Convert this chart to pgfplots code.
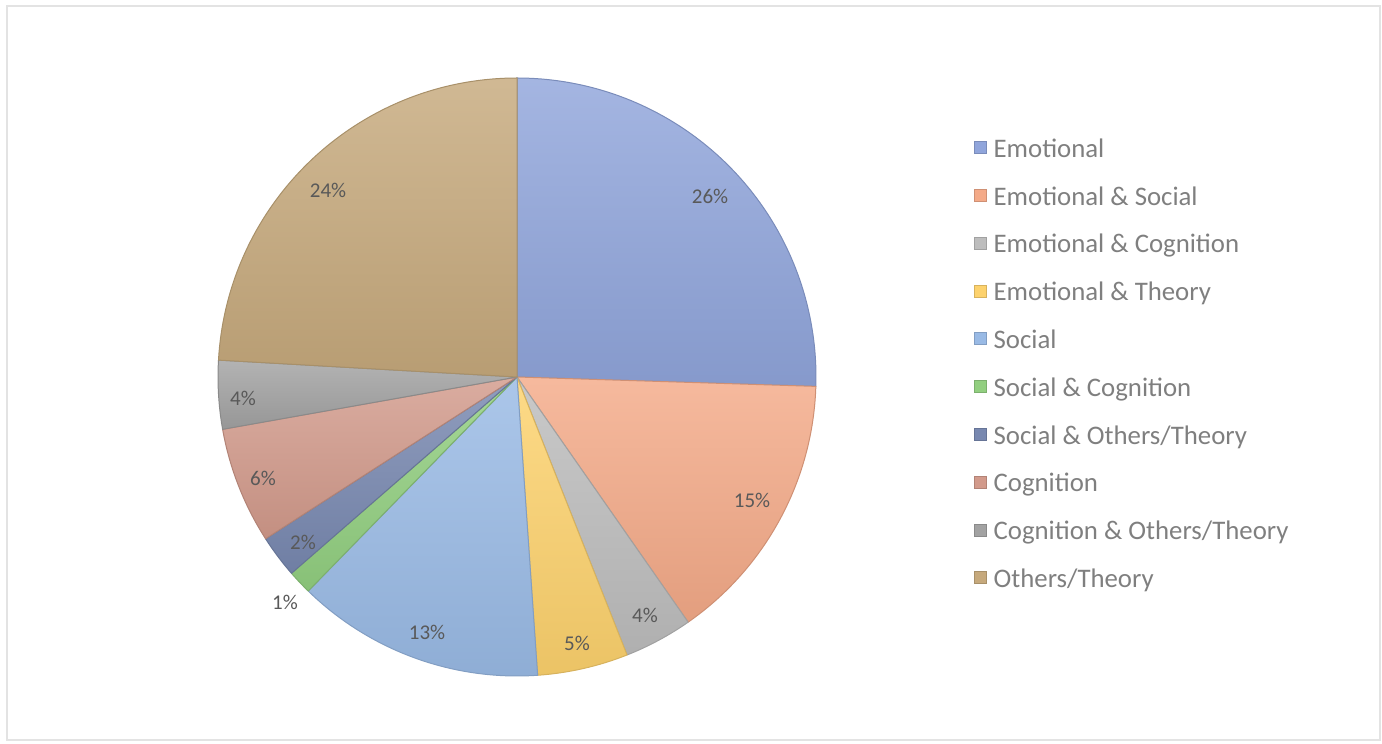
\documentclass[border=0pt]{standalone}
\usepackage{pgfplots}
\pgfplotsset{compat=1.18}
\usepackage{pgfplotstable}
\usepackage{fontspec}
\setmainfont{Carlito}

\definecolor{slice0}{HTML}{90A5DB}
\definecolor{slice1}{HTML}{F4AA88}
\definecolor{slice2}{HTML}{BDBDBD}
\definecolor{slice3}{HTML}{FDD26D}
\definecolor{slice4}{HTML}{99BAE5}
\definecolor{slice5}{HTML}{92CF80}
\definecolor{slice6}{HTML}{7888B0}
\definecolor{slice7}{HTML}{D29A8B}
\definecolor{slice8}{HTML}{A2A2A2}
\definecolor{slice9}{HTML}{C6A97C}
\definecolor{legtext}{HTML}{7F7F7F}
\definecolor{labtext}{HTML}{595959}
\definecolor{framecol}{HTML}{E3E3E3}

% share of each category in percent, clockwise from 12 o'clock
\pgfplotstableread{
share
25.5
14.8
3.7
4.9
13.4
1.3
2.3
6.3
3.7
24.1
}\piedata

% data label positions (pixel units) and rounded label text
\pgfplotstableread{
x y lab
710 548 26
752 244 15
645 129 4
577 101 5
427 112 13
285 142 1
303 202 2
263 266 6
243 346 4
328 554 24
}\labeldata

\begin{document}
\begin{tikzpicture}
\begin{axis}[
  at={(0pt,0pt)}, anchor=south west,
  width=1382pt, height=744pt, scale only axis,
  xmin=0, xmax=1382, ymin=0, ymax=744,
  hide axis, clip=false,
  legend image code/.code={\draw[#1] (0pt,-6pt) rectangle (12pt,6pt); \path (18pt,0pt);},
  legend cell align=left,
  legend style={at={(0.7048,0.8185)}, anchor=north west, draw=none, fill=none,
     inner sep=0pt, row sep=23.3pt, font=\fontsize{26.8}{30}\selectfont, text=legtext,
     nodes={inner sep=1pt}},
]
\draw[color=framecol, line width=1.5pt] (axis cs:7,4) rectangle (axis cs:1380,738);
\def\angA{90}
\pgfplotsforeachungrouped \i in {0,...,9}{%
  \pgfplotstablegetelem{\i}{share}\of\piedata
  \pgfmathsetmacro\angB{\angA-3.6*\pgfplotsretval}%
  \edef\temp{\noexpand\path[top color=slice\i!82!white, bottom color=slice\i!93!black, draw=slice\i!85!black, line width=1pt, line join=round] (axis cs:517,367) -- ++(\angA:299pt) arc[start angle=\angA, end angle=\angB, radius=299pt] -- cycle;}%
  \temp
  \global\let\angA\angB
}
\addlegendimage{fill=slice0, draw=slice0!85!black}\addlegendentry{\strut Emotional}
\addlegendimage{fill=slice1, draw=slice1!85!black}\addlegendentry{\strut Emotional \& Social}
\addlegendimage{fill=slice2, draw=slice2!85!black}\addlegendentry{\strut Emotional \& Cognition}
\addlegendimage{fill=slice3, draw=slice3!85!black}\addlegendentry{\strut Emotional \& Theory}
\addlegendimage{fill=slice4, draw=slice4!85!black}\addlegendentry{\strut Social}
\addlegendimage{fill=slice5, draw=slice5!85!black}\addlegendentry{\strut Social \& Cognition}
\addlegendimage{fill=slice6, draw=slice6!85!black}\addlegendentry{\strut Social \& Others/Theory}
\addlegendimage{fill=slice7, draw=slice7!85!black}\addlegendentry{\strut Cognition}
\addlegendimage{fill=slice8, draw=slice8!85!black}\addlegendentry{\strut Cognition \& Others/Theory}
\addlegendimage{fill=slice9, draw=slice9!85!black}\addlegendentry{\strut Others/Theory}
\addplot[forget plot, only marks, mark=none, point meta=explicit symbolic,
  nodes near coords={\pgfplotspointmeta\%},
  nodes near coords style={font=\fontsize{21}{25}\selectfont, text=labtext, anchor=center, inner sep=0pt}]
  table[x=x, y=y, meta=lab] {\labeldata};
\end{axis}
\pgfresetboundingbox
\useasboundingbox (0,0) rectangle (1382pt,744pt);
\end{tikzpicture}
\end{document}
